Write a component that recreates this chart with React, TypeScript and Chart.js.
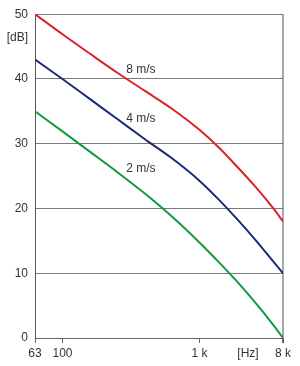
import React, { useEffect, useRef } from "react";
import { Chart, registerables } from "chart.js";

Chart.register(...registerables);

// Frequencies (Hz) and sound levels (dB)
const frequencies = [63, 100, 160, 250, 400, 630, 1000, 1600, 2500, 4000, 6300, 8000];
const level8 = [50, 46.9, 43.85, 41.0, 38.15, 35.4, 32.15, 29.5, 26.6, 23.4, 20.0, 18.0];
const level4 = [43, 40, 36.85, 33.85, 30.7, 27.75, 24.3, 21.45, 18.5, 15.2, 11.8, 10.0];
const level2 = [35, 31.9, 28.7, 25.65, 22.3, 18.75, 14.75, 11.8, 8.85, 5.5, 2.0, 0.0];
const seriesNames = ["8 m/s", "4 m/s", "2 m/s"];
const seriesColors = ["#d9222a", "#1b2a7a", "#139a3f"];

// Tick labels
const xTickFreqs = [63, 100, 1000, 3350, 8000];
const xTickLabels = ["63", "100", "1 k", "[Hz]", "8 k"];
const yTickValues = [0, 10, 20, 30, 40, 46.3, 50];
const yTickLabels = ["0", "10", "20", "30", "40", "[dB]", "50"];

// Curve label anchors (frequency, dB)
const curveLabelFreqs = [374, 374, 374];
const curveLabelLevels = [41.4, 33.9, 26.1];

// Axis position for a frequency (the printed axis is compressed above 1 kHz)
function pos(f: number): number {
  const base = Math.log2(1000 / 63);
  if (f <= 1000) return Math.log2(f / 63);
  return base + Math.log2(f / 1000) * 0.676;
}

export default function App() {
  const ref = useRef<HTMLCanvasElement | null>(null);

  useEffect(() => {
    if (!ref.current) return;
    const all = [level8, level4, level2];
    const xTickPos = xTickFreqs.map(pos);
    const labelPlugin = {
      id: "curveLabels",
      afterDatasetsDraw(chart: any) {
        const ctx = chart.ctx;
        const xs = chart.scales.x;
        const ys = chart.scales.y;
        ctx.save();
        ctx.font = "12px 'Liberation Sans', Arial, sans-serif";
        ctx.fillStyle = "#333";
        ctx.textAlign = "center";
        ctx.textBaseline = "middle";
        seriesNames.forEach((n, i) => {
          ctx.fillText(
            n,
            xs.getPixelForValue(pos(curveLabelFreqs[i])),
            ys.getPixelForValue(curveLabelLevels[i])
          );
        });
        ctx.restore();
      },
    };
    const chart = new Chart(ref.current, {
      type: "line",
      data: {
        datasets: all.map((vals, i) => ({
          label: seriesNames[i],
          data: frequencies.map((f, j) => ({ x: pos(f), y: vals[j] })),
          borderColor: seriesColors[i],
          backgroundColor: seriesColors[i],
          borderWidth: 2,
          pointRadius: 0,
          cubicInterpolationMode: "monotone" as const,
          fill: false,
        })),
      },
      options: {
        animation: false,
        responsive: false,
        layout: { padding: { left: 0, right: 17, top: 12, bottom: 0 } },
        plugins: { legend: { display: false }, tooltip: { enabled: false } },
        scales: {
          x: {
            type: "linear",
            min: pos(63),
            max: pos(8000),
            afterBuildTicks: (scale: any) => {
              scale.ticks = xTickPos.map((v) => ({ value: v }));
            },
            afterFit: (scale: any) => {
              scale.height = 28;
            },
            ticks: {
              autoSkip: false,
              maxRotation: 0,
              padding: 3,
              color: "#333",
              font: { family: "'Liberation Sans', Arial, sans-serif", size: 12 },
              callback: (_v: any, i: number) => xTickLabels[i],
            },
            grid: {
              drawOnChartArea: true,
              drawTicks: true,
              tickLength: 5,
              color: (c: any) =>
                c.index === xTickLabels.length - 1 ? "#a8a8a8" : "rgba(0,0,0,0)",
              lineWidth: (c: any) => (c.index === xTickLabels.length - 1 ? 2 : 1),
              tickColor: (c: any) =>
                xTickLabels[c.index] === "[Hz]" ? "rgba(0,0,0,0)" : "#666",
            },
            border: { display: true, color: "#666", width: 1 },
          },
          y: {
            type: "linear",
            min: 0,
            max: 50,
            afterBuildTicks: (scale: any) => {
              scale.ticks = yTickValues.map((v) => ({ value: v }));
            },
            afterFit: (scale: any) => {
              scale.width = 35;
            },
            ticks: {
              autoSkip: false,
              padding: 7,
              color: "#333",
              font: { family: "'Liberation Sans', Arial, sans-serif", size: 12 },
              callback: (_v: any, i: number) => yTickLabels[i],
            },
            grid: {
              drawTicks: false,
              color: (c: any) =>
                yTickLabels[c.index] === "[dB]" ? "rgba(0,0,0,0)" : "#7a7a7a",
              lineWidth: 1,
            },
            border: { display: true, color: "#555", width: 1 },
          },
        },
      },
      plugins: [labelPlugin],
    });
    return () => chart.destroy();
  }, []);

  return (
    <div style={{ position: "absolute", left: 0, top: 0, width: 300, height: 366, background: "#fff" }}>
      <canvas ref={ref} width={300} height={366} style={{ width: 300, height: 366, display: "block" }} />
    </div>
  );
}
